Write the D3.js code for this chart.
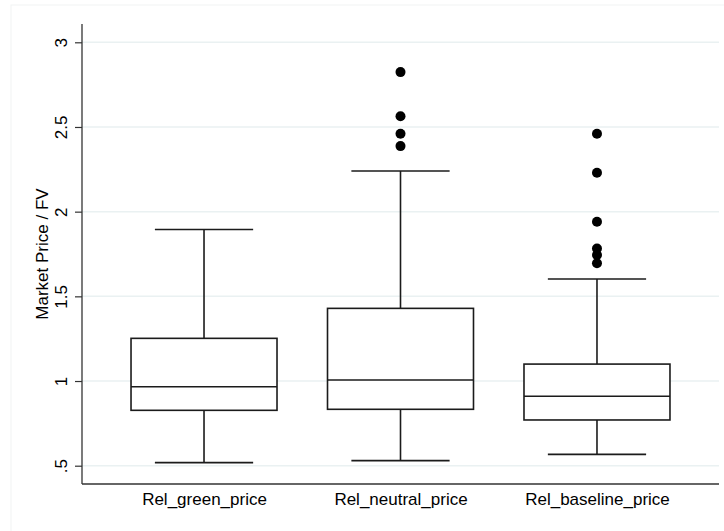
<!DOCTYPE html>
<html>
<head>
<meta charset="utf-8">
<script src="https://cdn.jsdelivr.net/npm/d3@7"></script>
<style>
  html, body { margin: 0; padding: 0; background: #fff; }
  svg { display: block; font-family: "Liberation Sans", Arial, Helvetica, sans-serif; }
</style>
</head>
<body>
<svg id="chart" width="724" height="531"></svg>
<script>
// Box-plot summaries for each price ratio
const categories = ["Rel_green_price", "Rel_neutral_price", "Rel_baseline_price"];
const lowerWhisker = [0.518, 0.530, 0.567];
const q1 = [0.827, 0.833, 0.770];
const median = [0.966, 1.006, 0.910];
const q3 = [1.252, 1.429, 1.100];
const upperWhisker = [1.895, 2.240, 1.602];
const outliers = [
  [],
  [2.387, 2.460, 2.563, 2.824],
  [1.695, 1.744, 1.783, 1.940, 2.230, 2.460]
];
const yTicks = [0.5, 1, 1.5, 2, 2.5, 3];
const yTickLabels = [".5", "1", "1.5", "2", "2.5", "3"];
const yTitle = "Market Price / FV";

(function draw() {
  const svg = d3.select("#chart");
  const W = 724, H = 531;

  // plot region
  const left = 82, right = 719;
  const y = d3.scaleLinear().domain([0.5, 3]).range([465.7, 42.3]);
  const yMin = 0.392, yMax = 3.108;   // extent of the plot region in data units
  const plotTop = y(yMax), plotBottom = y(yMin);

  const x = d3.scalePoint().domain(categories).range([left, right]).padding(0.621);
  const step = x.step();
  const boxW = step * 0.743;
  const capW = step * 0.5;

  // faint outer frame of the graph region
  svg.append("rect")
    .attr("x", 11).attr("y", 5)
    .attr("width", W).attr("height", H)
    .attr("fill", "none").attr("stroke", "#f1f3f4").attr("stroke-width", 1);

  // gridlines
  svg.append("g").selectAll("line").data(yTicks).join("line")
    .attr("x1", left).attr("x2", right)
    .attr("y1", d => y(d)).attr("y2", d => y(d))
    .attr("stroke", "#eaf1f2").attr("stroke-width", 1.5);

  // y axis
  const yAxis = d3.axisLeft(y).tickValues(yTicks)
    .tickFormat((d, i) => yTickLabels[i]).tickSize(7).tickPadding(0);
  const gy = svg.append("g").attr("transform", `translate(${left},0)`).call(yAxis);
  gy.select(".domain").remove();
  gy.selectAll(".tick line").attr("stroke", "#333").attr("stroke-width", 1.2);
  gy.selectAll(".tick text")
    .attr("x", null).attr("dy", null)
    .attr("transform", "translate(-15,0) rotate(-90)")
    .attr("text-anchor", "middle")
    .attr("font-size", 17).attr("fill", "#000");
  svg.append("line")
    .attr("x1", left).attr("x2", left).attr("y1", plotTop).attr("y2", plotBottom)
    .attr("stroke", "#333").attr("stroke-width", 1.3);

  // x axis
  const xAxis = d3.axisBottom(x).tickSize(0).tickPadding(0);
  const gx = svg.append("g").attr("transform", `translate(0,${plotBottom})`).call(xAxis);
  gx.select(".domain").remove();
  gx.selectAll(".tick text")
    .attr("y", 21).attr("dy", null)
    .attr("font-size", 17).attr("fill", "#000");
  svg.append("line")
    .attr("x1", left).attr("x2", right).attr("y1", plotBottom).attr("y2", plotBottom)
    .attr("stroke", "#333").attr("stroke-width", 1.3);

  // y title
  svg.append("text")
    .attr("transform", `translate(48,${(plotTop + plotBottom) / 2}) rotate(-90)`)
    .attr("text-anchor", "middle")
    .attr("font-size", 17).attr("fill", "#000")
    .text(yTitle);

  // boxes
  const stroke = "#1b1b1b", sw = 1.6;
  const boxes = svg.append("g").selectAll("g").data(categories).join("g");
  boxes.each(function (c, i) {
    const g = d3.select(this);
    const cx = x(c);
    // whiskers
    g.append("line").attr("x1", cx).attr("x2", cx)
      .attr("y1", y(q3[i])).attr("y2", y(upperWhisker[i]))
      .attr("stroke", stroke).attr("stroke-width", sw);
    g.append("line").attr("x1", cx).attr("x2", cx)
      .attr("y1", y(q1[i])).attr("y2", y(lowerWhisker[i]))
      .attr("stroke", stroke).attr("stroke-width", sw);
    // caps
    [upperWhisker[i], lowerWhisker[i]].forEach(v => {
      g.append("line").attr("x1", cx - capW / 2).attr("x2", cx + capW / 2)
        .attr("y1", y(v)).attr("y2", y(v))
        .attr("stroke", stroke).attr("stroke-width", sw);
    });
    // box
    g.append("rect")
      .attr("x", cx - boxW / 2).attr("width", boxW)
      .attr("y", y(q3[i])).attr("height", y(q1[i]) - y(q3[i]))
      .attr("fill", "#fff").attr("stroke", stroke).attr("stroke-width", sw);
    // median
    g.append("line").attr("x1", cx - boxW / 2).attr("x2", cx + boxW / 2)
      .attr("y1", y(median[i])).attr("y2", y(median[i]))
      .attr("stroke", stroke).attr("stroke-width", sw);
    // outside values
    g.selectAll("circle").data(outliers[i]).join("circle")
      .attr("cx", cx).attr("cy", d => y(d)).attr("r", 5)
      .attr("fill", "#000");
  });
})();
</script>
</body>
</html>
